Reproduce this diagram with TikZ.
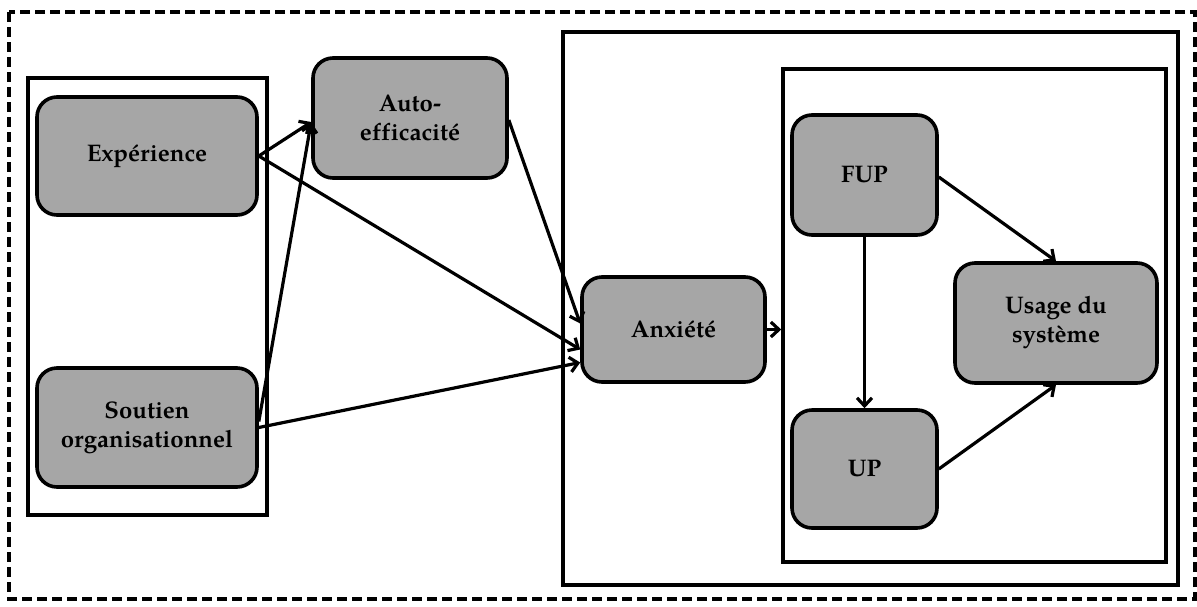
\documentclass[tikz,border=0pt]{standalone}
\usepackage{fontspec}
\setmainfont{texgyrepagella}[Extension=.otf,UprightFont=*-regular,BoldFont=*-bold,ItalicFont=*-italic,BoldItalicFont=*-bolditalic,Ligatures=CommonOff]
\usetikzlibrary{arrows.meta}
\definecolor{boxgrey}{RGB}{166,166,166}
\begin{document}
\begin{tikzpicture}[x=1pt,y=-1pt,
  varbox/.style={draw=black,line width=3.6pt,fill=boxgrey,rounded corners=20pt,
    align=center,font=\fontsize{24}{29}\selectfont\bfseries,inner sep=0pt},
  frame/.style={draw=black,line width=3.6pt,inner sep=0pt},
  link/.style={line width=3.2pt,-{Straight Barb[length=8pt,width=15pt,line width=3.2pt]}}]
\useasboundingbox (0,0) rectangle (1197,606);
\draw[line width=3.4pt,dash pattern=on 10pt off 5pt] (9,12) rectangle (1195,599);
% frames
\node[frame,minimum width=239pt,minimum height=437pt] (leftframe) at (147.5,296.5) {};
\node[frame,minimum width=615pt,minimum height=553pt] (midframe) at (870.5,308.5) {};
\node[frame,minimum width=383pt,minimum height=493pt] (inner) at (974.5,315.5) {};
% variables
\node[varbox,minimum width=220pt,minimum height=118pt] (exp) at (147,156) {Expérience};
\node[varbox,minimum width=220pt,minimum height=119pt] (sout) at (147,427.5) {Soutien\\organisationnel};
\node[varbox,minimum width=194pt,minimum height=120pt] (auto) at (410,118) {Auto-\\efficacité};
\node[varbox,minimum width=183pt,minimum height=105pt] (anx) at (673.5,329.5) {Anxiété};
\node[varbox,minimum width=145pt,minimum height=120pt] (fup) at (864.5,175) {FUP};
\node[varbox,minimum width=145pt,minimum height=118pt] (up) at (864.5,469) {UP};
\node[varbox,minimum width=202pt,minimum height=120pt] (usage) at (1056,323) {Usage du\\système};
% connectors
\draw[link] (exp.east) -- ([yshift=-4pt]auto.west);
\draw[link] ([yshift=6pt]sout.east) -- ([yshift=-4pt]auto.west);
\draw[link] (exp.east) -- ([yshift=-20pt]anx.west);
\draw[link] ([yshift=-2pt]auto.east) -- ([yshift=6pt]anx.west);
\draw[link] (sout.east) -- ([yshift=-33pt]anx.west);
\draw[link] (anx.east) -- (anx.east -| inner.west);
\draw[link] (fup.south) -- (up.north);
\draw[link] ([yshift=-2pt]fup.east) -- (usage.north);
\draw[link] (up.east) -- (usage.south);
\end{tikzpicture}
\end{document}
